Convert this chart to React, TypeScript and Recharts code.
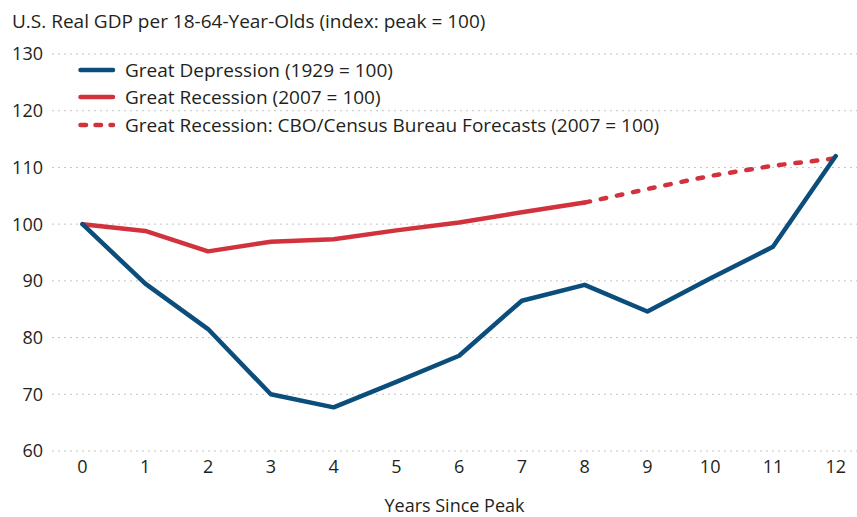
import React from 'react';
import { LineChart, Line, XAxis, YAxis, CartesianGrid, Legend, Label } from 'recharts';

const years = [0, 1, 2, 3, 4, 5, 6, 7, 8, 9, 10, 11, 12];
const depression = [100, 89.5, 81.5, 70.0, 67.7, 72.2, 76.8, 86.5, 89.3, 84.6, 90.4, 96.0, 112.0];
const recession = [100, 98.8, 95.2, 96.9, 97.35, 98.9, 100.3, 102.1, 103.8, null, null, null, null];
const forecast = [null, null, null, null, null, null, null, null, 103.8, 106.2, 108.5, 110.3, 111.6];
const yTicks = [60, 70, 80, 90, 100, 110, 120, 130];

const title = 'U.S. Real GDP per 18-64-Year-Olds (index: peak = 100)';
const xLabel = 'Years Since Peak';
const seriesNames = ['Great Depression (1929 = 100)', 'Great Recession (2007 = 100)', 'Great Recession: CBO/Census Bureau Forecasts (2007 = 100)'];

const BLUE = '#0b4d7b';
const RED = '#d2323c';
const TEXT = '#231f20';
const FONT = '"Open Sans", "Noto Sans", sans-serif';
const FS = 18;
const FS_BIG = 19;

const data = years.map((y, i) => ({ year: y, dep: depression[i], rec: recession[i], fc: forecast[i] }));

const legendItems = [
  { name: seriesNames[0], color: BLUE, dash: undefined as string | undefined },
  { name: seriesNames[1], color: RED, dash: undefined },
  { name: seriesNames[2], color: RED, dash: '5.5 9.5' },
];

const LegendContent = () => (
  <div style={{ fontFamily: FONT, fontSize: FS_BIG, color: TEXT, textAlign: 'left' }}>
    {legendItems.map((it) => (
      <div key={it.name} style={{ display: 'flex', alignItems: 'center', height: 27.5 }}>
        <svg width={47} height={10} style={{ flex: 'none' }}>
          <line x1={2.5} y1={5} x2={35} y2={5} stroke={it.color} strokeWidth={4.5} strokeLinecap="round" strokeDasharray={it.dash} />
        </svg>
        <span style={{ whiteSpace: 'nowrap' }}>{it.name}</span>
      </div>
    ))}
  </div>
);

export default function App() {
  return (
    <div style={{ position: 'absolute', left: 0, top: 0, width: 857, height: 517, background: '#fff' }}>
      <div style={{ position: 'absolute', left: 12, top: 9, fontFamily: FONT, fontSize: FS_BIG, color: TEXT, whiteSpace: 'nowrap', lineHeight: '24px' }}>{title}</div>
      <LineChart width={857} height={517} data={data} margin={{ top: 54, right: 0, bottom: 0, left: 0 }}>
        <CartesianGrid vertical={false} stroke="#c4c4c4" strokeDasharray="2 4" strokeWidth={1} />
        <XAxis
          dataKey="year"
          type="number"
          domain={[0, 12]}
          ticks={years}
          axisLine={false}
          tickLine={false}
          tickSize={0}
          tickMargin={9}
          height={66}
          padding={{ left: 30.5, right: 21.3 }}
          tick={{ fill: TEXT, fontSize: FS, fontFamily: FONT }}
        >
          <Label value={xLabel} position="insideBottom" offset={5} style={{ fill: TEXT, fontSize: FS, fontFamily: FONT }} />
        </XAxis>
        <YAxis
          type="number"
          domain={[60, 130]}
          ticks={yTicks}
          axisLine={false}
          tickLine={false}
          tickSize={0}
          tickMargin={9}
          width={52}
          tick={{ fill: TEXT, fontSize: FS, fontFamily: FONT }}
        />
        <Legend
          content={<LegendContent />}
          layout="horizontal"
          align="center"
          verticalAlign="middle"
          wrapperStyle={{ position: 'absolute', left: 78, top: 56, width: 660 }}
        />
        <Line dataKey="rec" stroke={RED} strokeWidth={4.5} dot={false} isAnimationActive={false} strokeLinecap="round" strokeLinejoin="round" connectNulls={false} />
        <Line dataKey="fc" stroke={RED} strokeWidth={4.5} dot={false} isAnimationActive={false} strokeLinecap="round" strokeDasharray="5.5 11" connectNulls={false} />
        <Line dataKey="dep" stroke={BLUE} strokeWidth={4.5} dot={false} isAnimationActive={false} strokeLinecap="round" strokeLinejoin="round" />
      </LineChart>
    </div>
  );
}
